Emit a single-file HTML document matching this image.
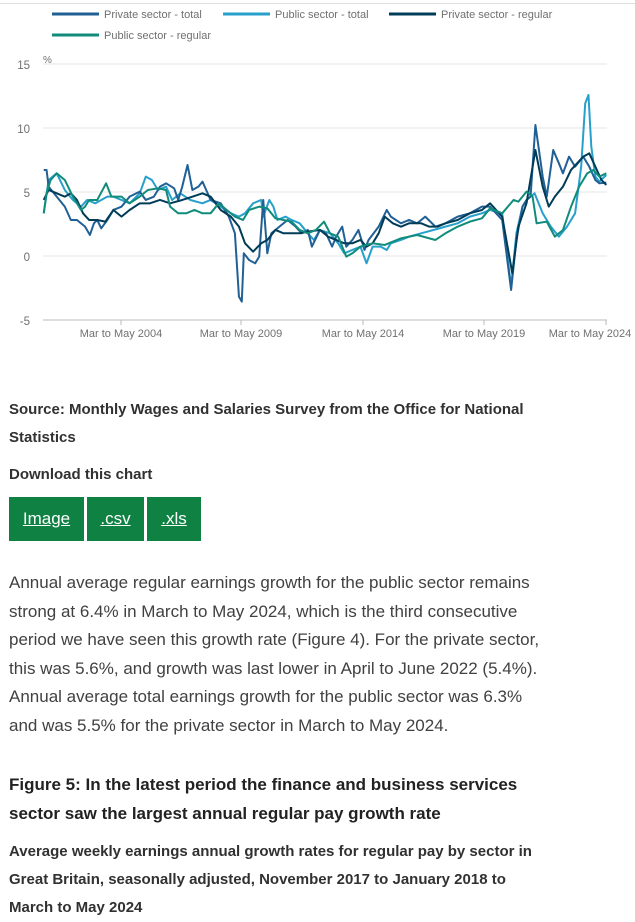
<!DOCTYPE html>
<html><head><meta charset="utf-8"><style>
body{margin:0;width:635px;height:917px;overflow:hidden;background:#fff;font-family:"Liberation Sans",sans-serif;color:#222;position:relative}
.a{position:absolute;white-space:nowrap}
.b{font-weight:bold;font-size:15px;color:#323132}
.btn{position:absolute;top:497px;height:44px;background:#0f8243;color:#fff;font-size:17px;text-decoration:underline;line-height:44px;text-align:center}
.p{font-size:17px;color:#414042}
.f{font-weight:bold;font-size:17px;color:#222}
</style></head><body>
<div style="position:absolute;left:0;top:3px;width:635px;height:1px;background:#e0e0e0"></div>
<svg class="a" style="left:0;top:0" width="635" height="345">
<g font-family="Liberation Sans, sans-serif" font-size="11" fill="#707070">
<line x1="52" y1="14" x2="99" y2="14" stroke="#206095" stroke-width="3"/><text x="104" y="18">Private sector - total</text>
<line x1="223" y1="14" x2="270" y2="14" stroke="#27a0cc" stroke-width="3"/><text x="275" y="18">Public sector - total</text>
<line x1="389" y1="14" x2="436" y2="14" stroke="#003c57" stroke-width="3"/><text x="441" y="18">Private sector - regular</text>
<line x1="52" y1="35" x2="99" y2="35" stroke="#118c7b" stroke-width="3"/><text x="104" y="39">Public sector - regular</text>
<text x="43" y="63" font-size="10">%</text>
<g font-size="11.5"><text x="30" y="69" text-anchor="end">15</text><text x="30" y="133" text-anchor="end">10</text><text x="30" y="197" text-anchor="end">5</text><text x="30" y="261" text-anchor="end">0</text><text x="30" y="325" text-anchor="end">-5</text></g>
<g text-anchor="middle" font-size="11"><text x="121" y="337">Mar to May 2004</text><text x="241" y="337">Mar to May 2009</text><text x="363" y="337">Mar to May 2014</text><text x="484" y="337">Mar to May 2019</text><text x="590" y="337">Mar to May 2024</text></g>
</g>
<g stroke="#e6e6e6" stroke-width="1"><line x1="43" y1="64" x2="607" y2="64"/><line x1="43" y1="128" x2="607" y2="128"/><line x1="43" y1="192" x2="607" y2="192"/><line x1="43" y1="256" x2="607" y2="256"/></g>
<line x1="43" y1="320" x2="607" y2="320" stroke="#bbb"/>
<g stroke="#bbb"><line x1="121" y1="320" x2="121" y2="325"/><line x1="241" y1="320" x2="241" y2="325"/><line x1="363" y1="320" x2="363" y2="325"/><line x1="484" y1="320" x2="484" y2="325"/><line x1="606" y1="320" x2="606" y2="325"/></g>
<g transform="scale(0.405,0.3333)" fill="none" stroke-width="2" stroke-linejoin="round">
<polyline vector-effect="non-scaling-stroke" stroke="#27a0cc" points="108,640 120,540 140,520 160,570 180,600 200,620 215,600 235,610 250,600 265,590 280,590 300,600 320,610 345,580 360,530 375,540 390,570 410,560 425,600 445,580 470,600 500,610 520,600 545,620 570,640 590,650 605,640 625,610 645,600 650,650 665,600 675,620 685,660 705,650 720,660 740,670 760,700 775,720 790,690 815,700 835,730 850,760 870,750 890,740 905,790 920,740 940,740 955,750 965,730 990,720 1010,710 1040,700 1070,690 1100,680 1130,670 1160,650 1190,640 1210,630 1240,640 1262,860 1275,700 1290,620 1300,600 1320,580 1340,640 1360,680 1380,710 1400,680 1420,640 1435,500 1445,310 1453,285 1460,440 1470,530 1480,545 1497,525"/>
<polyline vector-effect="non-scaling-stroke" stroke="#206095" points="108,510 115,510 120,560 140,590 160,620 175,660 190,660 210,680 222,705 232,670 240,660 250,685 265,660 280,630 300,620 320,590 345,575 360,600 380,590 395,560 410,550 430,565 440,600 450,560 463,495 475,570 490,560 500,545 520,600 545,610 565,650 580,700 590,890 597,905 602,760 615,780 630,790 640,770 650,600 660,760 670,700 690,680 710,660 730,680 745,700 760,690 770,740 790,690 805,700 820,740 830,710 845,680 855,740 870,720 885,690 900,750 910,720 935,680 955,630 965,650 990,670 1010,660 1030,670 1050,650 1075,680 1100,670 1130,650 1160,640 1190,620 1210,620 1240,660 1262,870 1275,720 1290,620 1300,600 1310,590 1322,375 1340,530 1350,590 1366,450 1380,490 1390,520 1405,470 1420,500 1440,470 1455,500 1470,540 1480,550 1497,548"/>
<polyline vector-effect="non-scaling-stroke" stroke="#003c57" points="108,600 120,570 140,580 160,590 175,580 190,600 205,640 220,660 240,660 260,665 280,630 300,650 320,630 345,610 370,610 395,600 420,610 450,600 475,590 500,580 520,590 545,630 570,650 590,680 605,730 625,755 645,730 660,720 680,690 700,700 720,700 740,700 760,695 790,690 810,710 830,720 850,730 870,730 890,720 905,740 920,730 935,700 950,650 970,670 990,680 1010,670 1040,670 1060,680 1080,680 1100,670 1130,660 1160,640 1190,630 1210,610 1240,650 1265,820 1280,680 1300,610 1322,450 1340,560 1355,620 1370,590 1390,560 1410,510 1425,490 1440,470 1455,460 1470,500 1485,540 1497,555"/>
<polyline vector-effect="non-scaling-stroke" stroke="#118c7b" points="108,640 115,580 125,540 140,520 160,540 180,590 200,630 210,620 220,600 240,600 262,550 275,590 300,590 320,610 345,590 365,570 390,565 410,570 420,620 440,640 460,640 480,630 500,640 520,640 540,610 560,630 580,650 600,660 615,630 640,620 660,625 680,655 700,660 720,665 740,690 760,700 780,690 800,665 815,700 835,710 855,770 870,760 890,740 920,730 950,735 990,715 1030,705 1075,720 1100,700 1130,680 1160,665 1190,655 1210,625 1240,640 1268,600 1280,605 1300,575 1315,590 1325,670 1350,665 1370,710 1390,690 1410,620 1430,560 1450,520 1465,510 1480,530 1497,520"/>
</g>
</svg>
<div class="a b" style="left:9px;top:401px">Source: Monthly Wages and Salaries Survey from the Office for National</div>
<div class="a b" style="left:9px;top:429px">Statistics</div>
<div class="a b" style="left:9px;top:466px">Download this chart</div>
<div class="btn" style="left:9px;width:75px">Image</div>
<div class="btn" style="left:87px;width:57px">.csv</div>
<div class="btn" style="left:147px;width:54px">.xls</div>
<div class="a p" style="left:9px;top:569px;line-height:28.6px">Annual average regular earnings growth for the public sector remains<br>strong at 6.4% in March to May 2024, which is the third consecutive<br>period we have seen this growth rate (Figure 4). For the private sector,<br>this was 5.6%, and growth was last lower in April to June 2022 (5.4%).<br>Annual average total earnings growth for the public sector was 6.3%<br>and was 5.5% for the private sector in March to May 2024.</div>
<div class="a f" style="left:9px;top:771px;line-height:28.5px">Figure 5: In the latest period the finance and business services<br>sector saw the largest annual regular pay growth rate</div>
<div class="a b" style="left:9px;top:838px;line-height:28px">Average weekly earnings annual growth rates for regular pay by sector in<br>Great Britain, seasonally adjusted, November 2017 to January 2018 to<br>March to May 2024</div>
</body></html>
